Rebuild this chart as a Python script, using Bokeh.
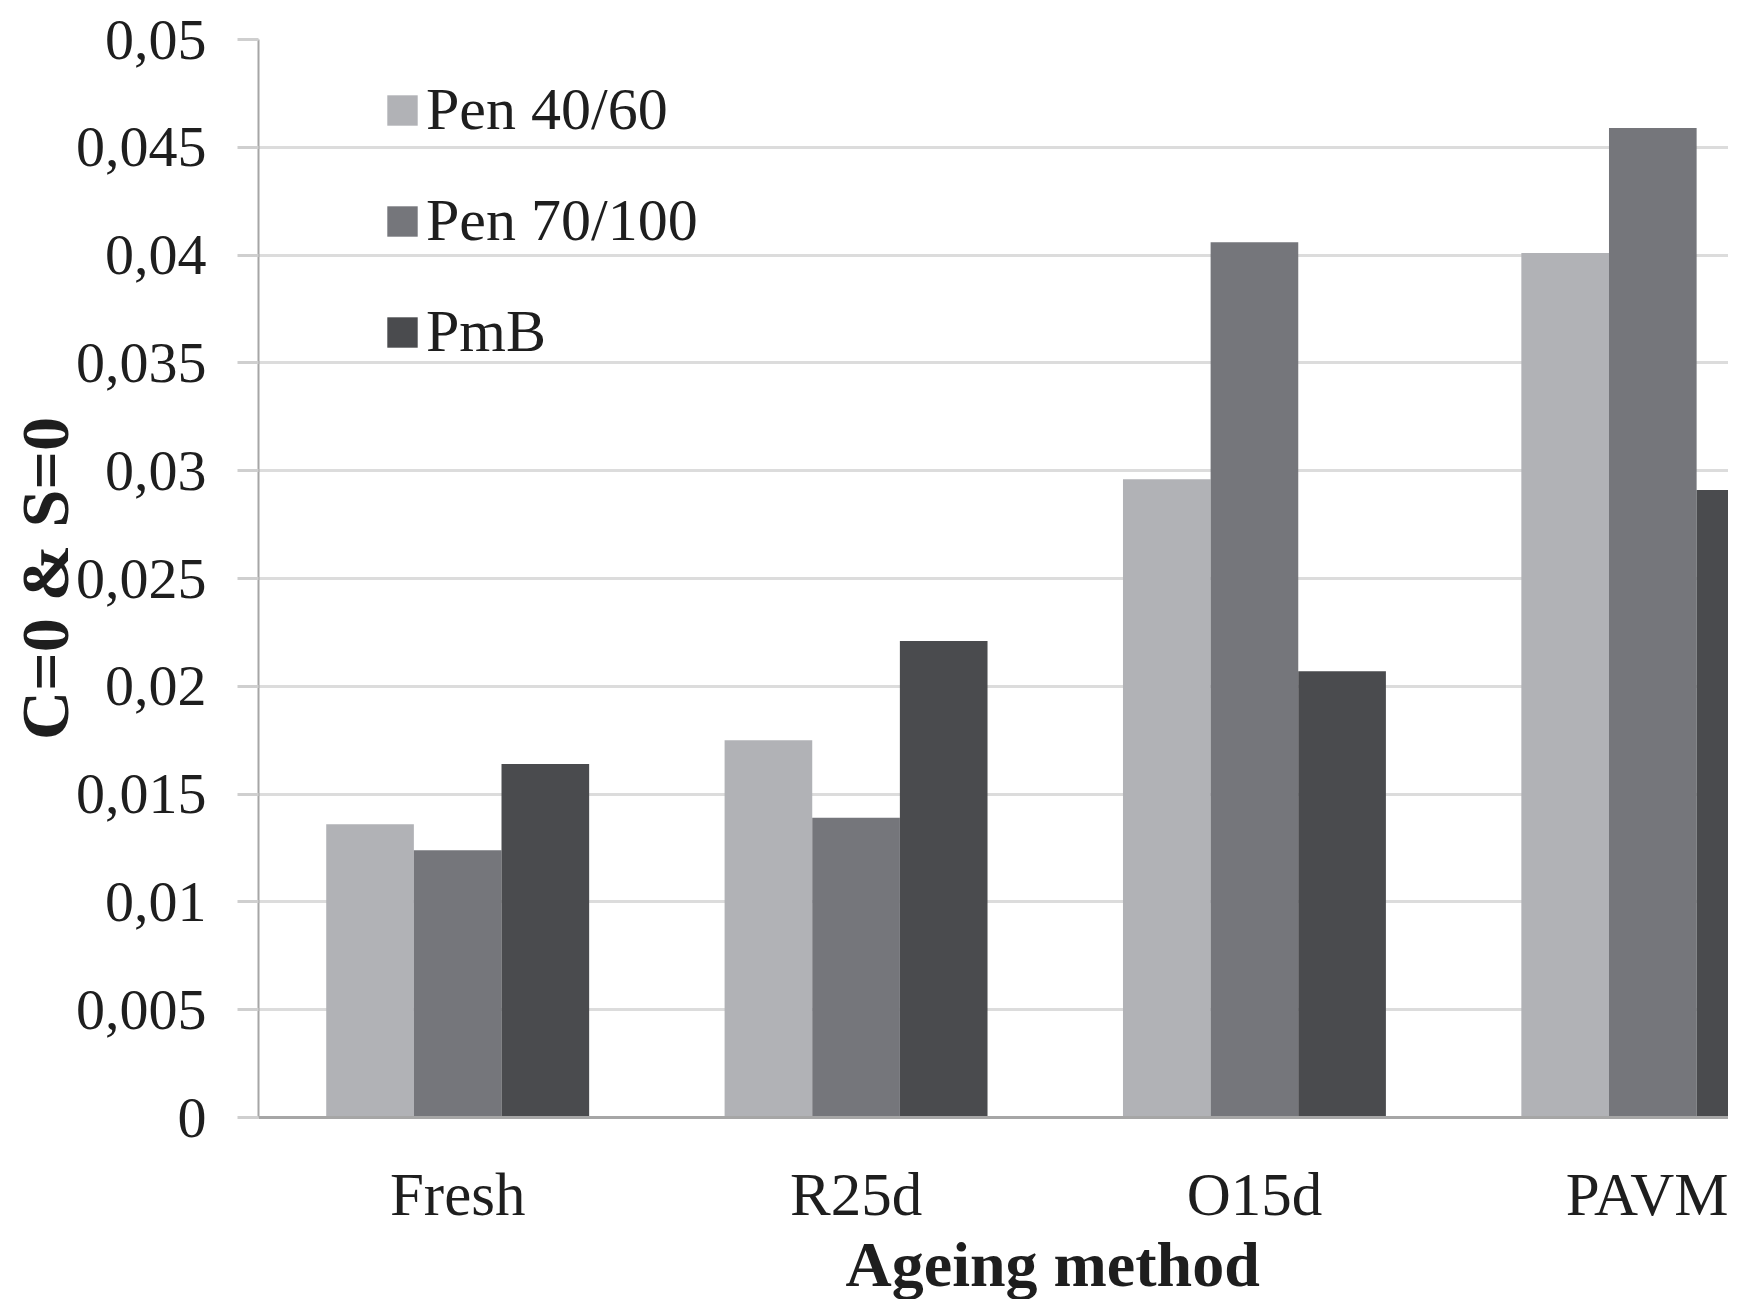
import numpy as np
from bokeh.plotting import figure
from bokeh.models import (Range1d, FixedTicker, CustomJSTickFormatter, Legend,
                          LegendItem, Title)
from bokeh.embed import file_html
from bokeh.resources import INLINE

categories = ["Fresh", "R25d", "O15d", "PAVM"]
series_names = ["Pen 40/60", "Pen 70/100", "PmB"]
pen_40_60 = [0.0136, 0.0175, 0.0296, 0.0401]
pen_70_100 = [0.0124, 0.0139, 0.0406, 0.0459]
pmb = [0.0164, 0.0221, 0.0207, 0.0291]
y_ticks = [0, 0.005, 0.01, 0.015, 0.02, 0.025, 0.03, 0.035, 0.04, 0.045, 0.05]

colors = ["#b1b2b6", "#75767b", "#4a4b4e"]
FONT = "Liberation Serif"
TXT = "#1e1e1e"

p = figure(width=1728, height=1299, output_backend="svg", toolbar_location=None,
           x_range=Range1d(0, 3.69), y_range=Range1d(0, 0.05),
           min_border_left=258, min_border_right=0, min_border_top=39,
           min_border_bottom=182)
p.outline_line_color = None
p.background_fill_color = "white"

idx = np.arange(len(categories)) + 0.5
bw = 0.22
offsets = [-bw, 0.0, bw]
renderers = []
for vals, off, col in zip([pen_40_60, pen_70_100, pmb], offsets, colors):
    r = p.vbar(x=idx + off, top=vals, width=bw, bottom=0,
               fill_color=col, line_color=None)
    renderers.append(r)

# y axis
p.yaxis.ticker = FixedTicker(ticks=y_ticks)
p.yaxis.formatter = CustomJSTickFormatter(code="""
if (Math.abs(tick) < 1e-9) return "0";
let s = tick.toFixed(3).replace(/0+$/, "");
return s.replace(".", ",");
""")
p.yaxis.major_label_text_font = FONT
p.yaxis.major_label_text_font_size = "58px"
p.yaxis.major_label_text_color = TXT
p.yaxis.major_tick_out = 21
p.yaxis.major_tick_in = 0
p.yaxis.major_tick_line_color = "#cfcfcf"
p.yaxis.major_tick_line_width = 3
p.yaxis.minor_tick_line_color = None
p.yaxis.axis_line_color = "#a6a6a6"
p.yaxis.axis_line_width = 2
p.yaxis.major_label_standoff = 31
p.yaxis.axis_label = "C=0 & S=0"
p.yaxis.axis_label_text_font = FONT
p.yaxis.axis_label_text_font_size = "68px"
p.yaxis.axis_label_text_font_style = "bold"
p.yaxis.axis_label_text_color = TXT
p.yaxis.axis_label_standoff = -10

# x axis
p.xaxis.ticker = FixedTicker(ticks=list(idx))
p.xaxis.formatter = CustomJSTickFormatter(args=dict(cats=categories),
                                          code="return cats[Math.floor(tick)] || '';")
p.xaxis.major_label_text_font = FONT
p.xaxis.major_label_text_font_size = "61px"
p.xaxis.major_label_text_color = TXT
p.xaxis.major_tick_out = 0
p.xaxis.major_tick_in = 0
p.xaxis.minor_tick_line_color = None
p.xaxis.axis_line_color = "#a6a6a6"
p.xaxis.axis_line_width = 3
p.xaxis.major_label_standoff = 43

p.xgrid.grid_line_color = None
p.ygrid.grid_line_color = "#dcdcdc"
p.ygrid.grid_line_width = 3

p.add_layout(Title(text="Ageing method", align="left", offset=587,
                   text_font=FONT, text_font_size="64px", text_font_style="bold",
                   text_color=TXT, standoff=-8), "below")

legend = Legend(items=[LegendItem(label=n, renderers=[r])
                       for n, r in zip(series_names, renderers)],
                location=(125, 751), orientation="vertical",
                label_text_font=FONT, label_text_font_size="60px",
                label_text_color=TXT,
                glyph_width=38, glyph_height=38, spacing=42, padding=0,
                margin=0, label_standoff=5,
                border_line_color=None, background_fill_alpha=0)
p.add_layout(legend)

open("out.html", "w").write(file_html(p, INLINE))
